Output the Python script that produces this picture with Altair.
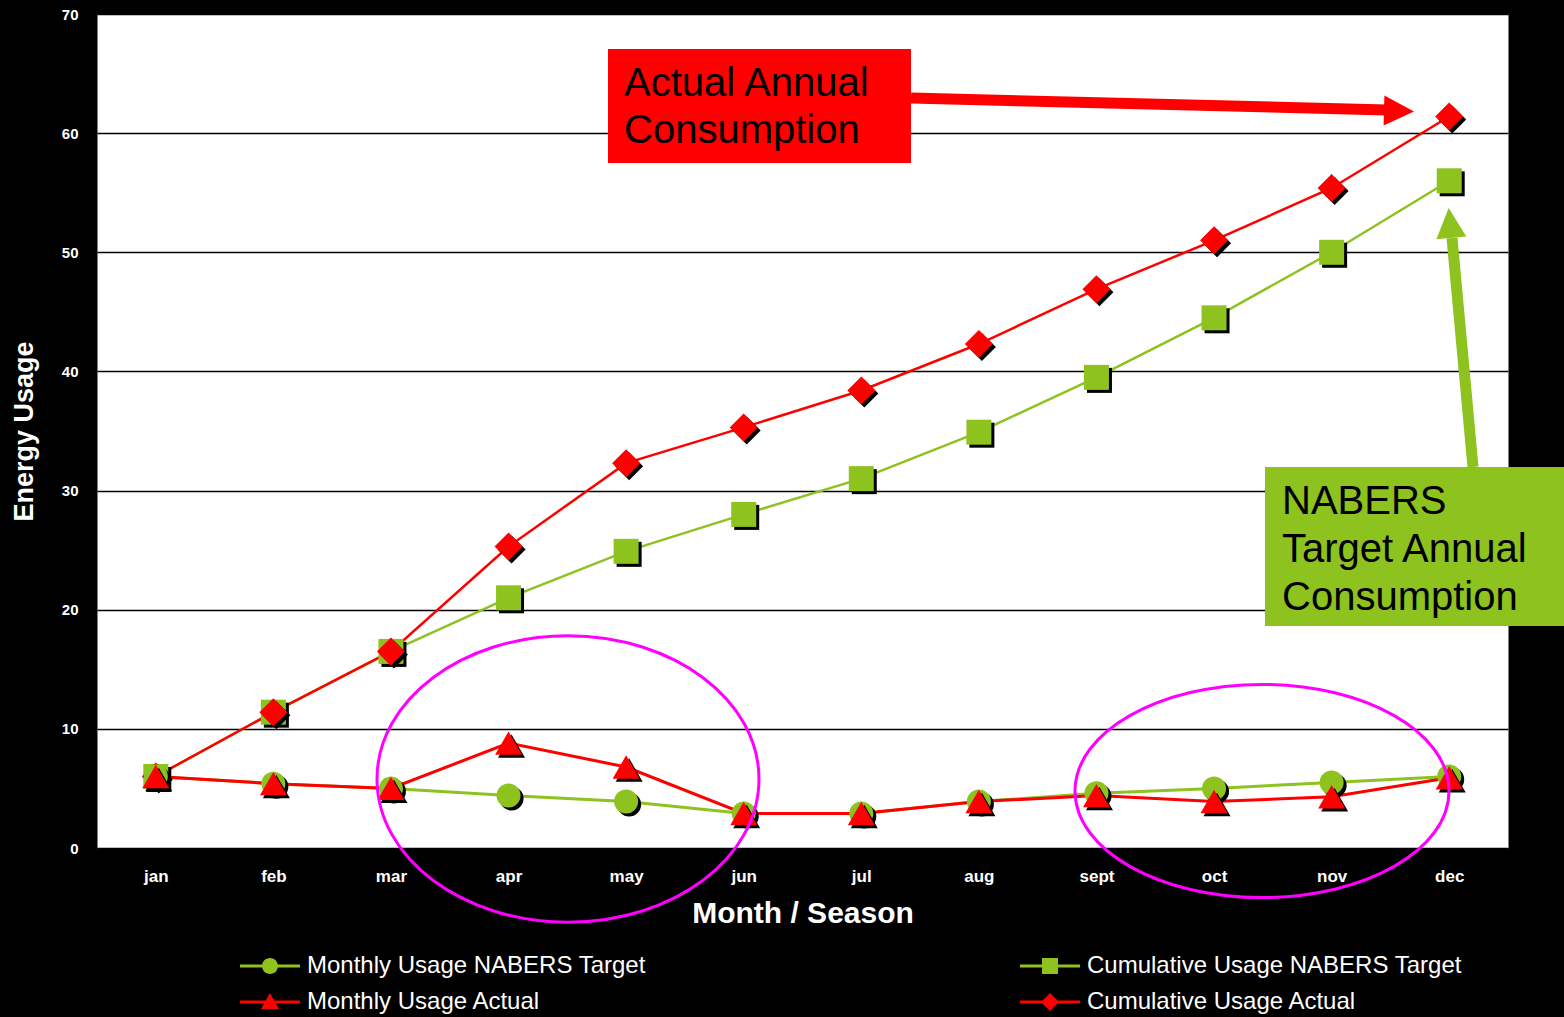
import json
import altair as alt
import pandas as pd

# ---------------- data ----------------
months = ["jan", "feb", "mar", "apr", "may", "jun", "jul", "aug", "sept", "oct", "nov", "dec"]
monthly_target = [6.0, 5.4, 5.0, 4.4, 3.9, 2.9, 2.9, 3.9, 4.6, 5.0, 5.5, 6.0]
monthly_actual = [6.0, 5.4, 5.0, 8.8, 6.8, 2.9, 2.9, 3.9, 4.4, 3.9, 4.3, 5.9]
cumulative_target = [6.0, 11.4, 16.5, 21.0, 24.9, 28.0, 31.0, 34.9, 39.5, 44.5, 50.0, 56.0]
cumulative_actual = [6.0, 11.4, 16.5, 25.3, 32.3, 35.3, 38.4, 42.3, 46.9, 51.0, 55.4, 61.4]

# legend order (filled column by column)
series_names = [
    "Monthly Usage NABERS Target",
    "Monthly Usage Actual",
    "Cumulative Usage NABERS Target",
    "Cumulative Usage Actual",
]
series_values = [monthly_target, monthly_actual, cumulative_target, cumulative_actual]
y_ticks = [0, 10, 20, 30, 40, 50, 60, 70]

red_box_lines = ["Actual Annual", "Consumption"]
green_box_lines = ["NABERS", "Target Annual", "Consumption"]

# ---------------- styles ----------------
RED = "#FF0000"
GREEN = "#8DC21F"
MAGENTA = "#FF00FF"
FONT = "Liberation Sans"

rows = []
for name, vals in zip(series_names, series_values):
    for i, (m, v) in enumerate(zip(months, vals)):
        rows.append({"series": name, "idx": i, "month": m, "value": v})
df = pd.DataFrame(rows)

label_expr = json.dumps(months) + "[datum.value]"

X = alt.X(
    "idx:Q",
    scale=alt.Scale(domain=[-0.5, 11.5], nice=False, zero=False),
    axis=alt.Axis(
        values=list(range(len(months))), labelExpr=label_expr, title="Month / Season",
        grid=False, ticks=False, domain=False,
        labelColor="white", labelFont=FONT, labelFontWeight="bold", labelFontSize=17,
        labelPadding=20,
        titleColor="white", titleFont=FONT, titleFontWeight="bold", titleFontSize=30,
        titlePadding=14,
    ),
)
Y = alt.Y(
    "value:Q",
    scale=alt.Scale(domain=[0, 70], nice=False),
    axis=alt.Axis(
        values=y_ticks, title="Energy Usage",
        grid=True, gridColor="black", gridWidth=1.5, gridOpacity=1,
        ticks=False, domain=False,
        labelColor="white", labelFont=FONT, labelFontWeight="bold", labelFontSize=15,
        labelPadding=19,
        titleColor="white", titleFont=FONT, titleFontWeight="bold", titleFontSize=27,
        titlePadding=23,
    ),
)

base = alt.Chart(df)


def line(name, color, width):
    return base.transform_filter(alt.datum.series == name).mark_line(
        color=color, strokeWidth=width
    ).encode(x=X, y=Y)


def pts(name, shape, color, size):
    shadow = base.transform_filter(alt.datum.series == name).mark_point(
        shape=shape, filled=True, color="black", size=size, opacity=1,
        strokeWidth=0, xOffset=3, yOffset=3
    ).encode(x=X, y=Y)
    face = base.transform_filter(alt.datum.series == name).mark_point(
        shape=shape, filled=True, color=color, size=size, opacity=1, strokeWidth=0
    ).encode(x=X, y=Y)
    return [shadow, face]


# legend (line + marker symbols)
leg_line = "M -1 -0.15 L 5 -0.15 L 5 0.15 L -1 0.15 Z "
leg_circle = leg_line + "M 2.8 0 A 0.8 0.8 0 1 1 1.2 0 A 0.8 0.8 0 1 1 2.8 0 Z"
leg_square = leg_line + "M 1.2 -0.8 L 2.8 -0.8 L 2.8 0.8 L 1.2 0.8 Z"
leg_triangle = leg_line + "M 2 -0.9 L 2.9 0.7 L 1.1 0.7 Z"
leg_diamond = leg_line + "M 2 -0.9 L 2.9 0 L 2 0.9 L 1.1 0 Z"
leg_paths = [leg_circle, leg_triangle, leg_square, leg_diamond]
leg_colors = [GREEN, RED, GREEN, RED]
legend = alt.Legend(
    title=None, orient="none", legendX=141, legendY=940, columns=2,
    columnPadding=372, rowPadding=12, symbolSize=400, symbolStrokeWidth=0,
    symbolOpacity=1, labelFont=FONT, labelFontSize=24, labelColor="white",
    labelOffset=45, labelLimit=700,
)
legend_layer = base.transform_filter("false").mark_point(
    filled=True, opacity=1, strokeWidth=0
).encode(
    x=X, y=Y,
    color=alt.Color("series:N", scale=alt.Scale(domain=series_names, range=leg_colors), legend=legend),
    shape=alt.Shape("series:N", scale=alt.Scale(domain=series_names, range=leg_paths), legend=legend),
)

# annotations
one = alt.Chart(pd.DataFrame({"k": [0]}))
ellipse1 = "M -1 0 A 1 0.75 0 1 1 1 0 A 1 0.75 0 1 1 -1 0 Z"
ellipse2 = "M -1 0 A 1 0.57 0 1 1 1 0 A 1 0.57 0 1 1 -1 0 Z"
BOX_FS = 40
ann = [
    one.mark_point(shape=ellipse1, filled=False, stroke=MAGENTA, strokeWidth=3, size=382 ** 2, opacity=1)
       .encode(x=alt.value(471), y=alt.value(765)),
    one.mark_point(shape=ellipse2, filled=False, stroke=MAGENTA, strokeWidth=3, size=374 ** 2, opacity=1)
       .encode(x=alt.value(1165), y=alt.value(777)),
    # red box + arrow
    one.mark_rule(color=RED, strokeWidth=11).encode(
        x=alt.value(814), y=alt.value(84), x2=alt.value(1290), y2=alt.value(96)),
    one.mark_point(shape="M -1 -1 L 1 0 L -1 1 Z", filled=True, color=RED, size=900,
                   angle=1.5, opacity=1, strokeWidth=0).encode(x=alt.value(1302), y=alt.value(97)),
    one.mark_rect(color=RED).encode(x=alt.value(511), x2=alt.value(814), y=alt.value(35), y2=alt.value(149)),
    one.mark_text(align="left", baseline="alphabetic", font=FONT, fontSize=BOX_FS, color="black")
       .encode(x=alt.value(527), y=alt.value(82), text=alt.value(red_box_lines[0])),
    one.mark_text(align="left", baseline="alphabetic", font=FONT, fontSize=BOX_FS, color="black")
       .encode(x=alt.value(527), y=alt.value(129), text=alt.value(red_box_lines[1])),
    # green box + arrow
    one.mark_rule(color=GREEN, strokeWidth=11).encode(
        x=alt.value(1376), y=alt.value(453), x2=alt.value(1355), y2=alt.value(224)),
    one.mark_point(shape="M -1 1 L 0 -1 L 1 1 Z", filled=True, color=GREEN, size=900,
                   angle=354.8, opacity=1, strokeWidth=0).encode(x=alt.value(1353), y=alt.value(209)),
    one.mark_rect(color=GREEN).encode(x=alt.value(1168), x2=alt.value(1467), y=alt.value(453), y2=alt.value(612)),
    one.mark_text(align="left", baseline="alphabetic", font=FONT, fontSize=BOX_FS, color="black")
       .encode(x=alt.value(1185), y=alt.value(500), text=alt.value(green_box_lines[0])),
    one.mark_text(align="left", baseline="alphabetic", font=FONT, fontSize=BOX_FS, color="black")
       .encode(x=alt.value(1185), y=alt.value(548), text=alt.value(green_box_lines[1])),
    one.mark_text(align="left", baseline="alphabetic", font=FONT, fontSize=BOX_FS, color="black")
       .encode(x=alt.value(1185), y=alt.value(596), text=alt.value(green_box_lines[2])),
]

layers = [
    line("Cumulative Usage NABERS Target", GREEN, 2.5),
    line("Monthly Usage NABERS Target", GREEN, 3),
    line("Cumulative Usage Actual", RED, 2.5),
    line("Monthly Usage Actual", RED, 3),
]
layers += pts("Cumulative Usage NABERS Target", "square", GREEN, 625)
layers += pts("Cumulative Usage Actual", "diamond", RED, 784)
layers += pts("Monthly Usage NABERS Target", "circle", GREEN, 576)
layers += pts("Monthly Usage Actual", "triangle-up", RED, 729)
layers += [legend_layer]
layers += ann

chart = alt.layer(*layers).properties(
    width=1411, height=834,
    autosize=alt.AutoSizeParams(type="none"),
    padding={"left": 97, "top": 14, "right": 56, "bottom": 169},
    background="black",
).configure_view(fill="white", stroke="transparent")

chart.save("out.html", embed_options={"renderer": "svg", "actions": False})
